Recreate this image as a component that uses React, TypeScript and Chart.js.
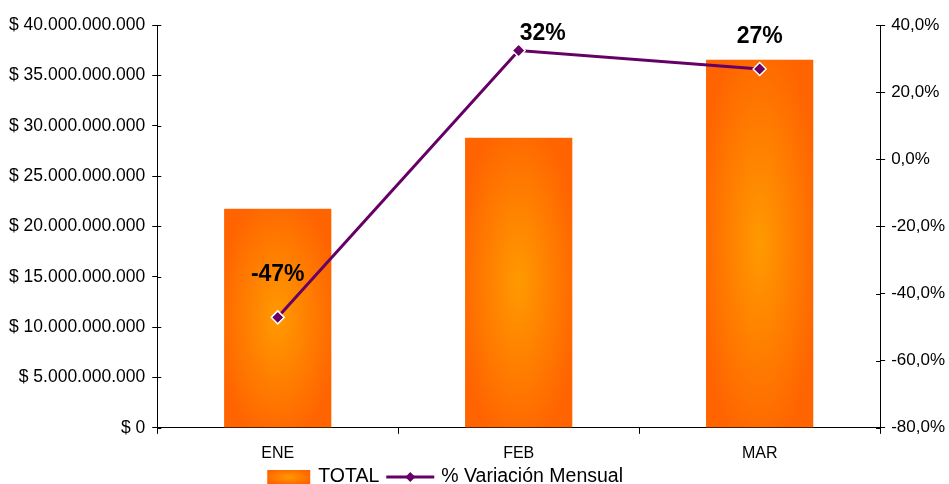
import React, { useEffect, useRef } from 'react';
import { Chart, registerables } from 'chart.js';

Chart.register(...registerables);

const categories = ['ENE', 'FEB', 'MAR'];
const totals = [21750000000, 28800000000, 36550000000];
const variation = [-47.1, 32.4, 26.9];
const variationLabels = ['-47%', '32%', '27%'];

const FONT = '"Liberation Sans", Arial, Helvetica, sans-serif';
const LINE_COLOR = '#660066';
const labelOffsets = [[0, -43], [24, -17], [0, -32]];

function fmtMoney(v: number): string {
  if (v === 0) return '$ 0';
  return '$ ' + Math.round(v).toString().replace(/\B(?=(\d{3})+(?!\d))/g, '.');
}
function fmtPct(v: number): string {
  return v.toFixed(1).replace('.', ',') + '%';
}

function fillGradRect(ctx: CanvasRenderingContext2D, x0: number, y0: number, w: number, h: number) {
  ctx.save();
  ctx.translate(x0 + w / 2, y0 + h / 2);
  ctx.scale(w / 2, h / 2);
  const g = ctx.createRadialGradient(0, 0, 0, 0, 0, 1.15);
  g.addColorStop(0, '#ff9a00');
  g.addColorStop(1, '#ff6400');
  ctx.fillStyle = g;
  ctx.fillRect(-1, -1, 2, 2);
  ctx.restore();
}

const barPaint = {
  id: 'barPaint',
  afterDatasetDraw(chart: any, args: any) {
    if (args.index !== 0) return;
    const ctx = chart.ctx;
    const meta = chart.getDatasetMeta(0);
    meta.data.forEach((el: any) => {
      const p = el.getProps(['x', 'y', 'base', 'width'], true);
      const top = Math.min(p.y, p.base);
      const h = Math.abs(p.base - p.y);
      fillGradRect(ctx, p.x - p.width / 2, top, p.width, h);
    });
  },
};

const extras = {
  id: 'extras',
  afterDraw(chart: any) {
    const ctx = chart.ctx;
    const area = chart.chartArea;
    ctx.save();
    ctx.strokeStyle = '#000';
    ctx.lineWidth = 1;
    const y = chart.scales.y;
    const y1 = chart.scales.y1;
    y.ticks.forEach((t: any) => {
      const py = Math.round(y.getPixelForValue(t.value)) + 0.5;
      ctx.beginPath();
      ctx.moveTo(area.left, py);
      ctx.lineTo(area.left + 4, py);
      ctx.stroke();
    });
    y1.ticks.forEach((t: any) => {
      const py = Math.round(y1.getPixelForValue(t.value)) + 0.5;
      ctx.beginPath();
      ctx.moveTo(area.right - 4, py);
      ctx.lineTo(area.right, py);
      ctx.stroke();
    });
    ctx.restore();

    const meta = chart.getDatasetMeta(1);
    ctx.save();
    ctx.font = `bold 23px ${FONT}`;
    ctx.fillStyle = '#000';
    ctx.textAlign = 'center';
    ctx.textBaseline = 'middle';
    meta.data.forEach((pt: any, i: number) => {
      const [dx, dy] = labelOffsets[i];
      ctx.fillText(variationLabels[i], pt.x + dx, pt.y + dy);
    });
    ctx.restore();

    ctx.save();
    const ly = chart.height - 7;
    let lx = area.left + 110;
    fillGradRect(ctx, lx, ly - 7, 43, 14);
    lx += 51;
    ctx.font = `19.5px ${FONT}`;
    ctx.fillStyle = '#000';
    ctx.textBaseline = 'middle';
    ctx.textAlign = 'left';
    ctx.fillText('TOTAL', lx, ly);
    lx += ctx.measureText('TOTAL').width + 7;
    ctx.strokeStyle = LINE_COLOR;
    ctx.lineWidth = 3;
    ctx.beginPath();
    ctx.moveTo(lx, ly);
    ctx.lineTo(lx + 48, ly);
    ctx.stroke();
    const cx = lx + 24;
    ctx.fillStyle = LINE_COLOR;
    ctx.beginPath();
    ctx.moveTo(cx, ly - 5);
    ctx.lineTo(cx + 5, ly);
    ctx.lineTo(cx, ly + 5);
    ctx.lineTo(cx - 5, ly);
    ctx.closePath();
    ctx.fill();
    lx += 55;
    ctx.fillStyle = '#000';
    ctx.fillText('% Variación Mensual', lx, ly);
    ctx.restore();
  },
};

export default function App() {
  const ref = useRef<HTMLCanvasElement | null>(null);
  useEffect(() => {
    if (!ref.current) return;
    const chart = new Chart(ref.current, {
      type: 'bar',
      data: {
        labels: categories,
        datasets: [
          {
            type: 'bar',
            label: 'TOTAL',
            data: totals,
            backgroundColor: 'rgba(0,0,0,0)',
            borderWidth: 0,
            yAxisID: 'y',
            order: 1,
            categoryPercentage: 1,
            barPercentage: 0.445,
          },
          {
            type: 'line',
            label: '% Variación Mensual',
            data: variation,
            borderColor: LINE_COLOR,
            backgroundColor: LINE_COLOR,
            borderWidth: 3,
            pointStyle: 'rectRot',
            pointRadius: 6.5,
            pointBackgroundColor: LINE_COLOR,
            pointBorderColor: '#ffffff',
            pointBorderWidth: 1.5,
            yAxisID: 'y1',
            order: 0,
            tension: 0,
          } as any,
        ],
      },
      options: {
        responsive: false,
        animation: false,
        layout: { padding: { left: 2, right: -2, top: 25, bottom: 11 } },
        plugins: {
          legend: { display: false },
          tooltip: { enabled: false },
        },
        scales: {
          x: {
            offset: true,
            grid: { drawOnChartArea: false, drawTicks: true, tickLength: 6, color: '#000', offset: true },
            border: { display: true, color: '#000' },
            ticks: { color: '#000', font: { family: FONT, size: 16 }, padding: 10 },
          },
          y: {
            position: 'left',
            min: 0,
            max: 40000000000,
            grid: { drawOnChartArea: false, drawTicks: true, tickLength: 5, color: '#000' },
            border: { display: true, color: '#000' },
            ticks: {
              stepSize: 5000000000,
              autoSkip: false,
              color: '#000',
              font: { family: FONT, size: 17.5 },
              padding: 7,
              callback: (v: any) => fmtMoney(Number(v)),
            },
          },
          y1: {
            position: 'right',
            min: -80,
            max: 40,
            grid: { drawOnChartArea: false, drawTicks: true, tickLength: 5, color: '#000' },
            border: { display: true, color: '#000' },
            ticks: {
              stepSize: 20,
              autoSkip: false,
              color: '#000',
              font: { family: FONT, size: 17 },
              padding: 6,
              callback: (v: any) => fmtPct(Number(v)),
            },
          },
        },
      },
      plugins: [barPaint, extras],
    });
    return () => chart.destroy();
  }, []);
  return (
    <div style={{ position: 'absolute', left: 0, top: 0, width: 949, height: 484, background: '#fff' }}>
      <canvas ref={ref} width={949} height={484} style={{ display: 'block' }} />
    </div>
  );
}
